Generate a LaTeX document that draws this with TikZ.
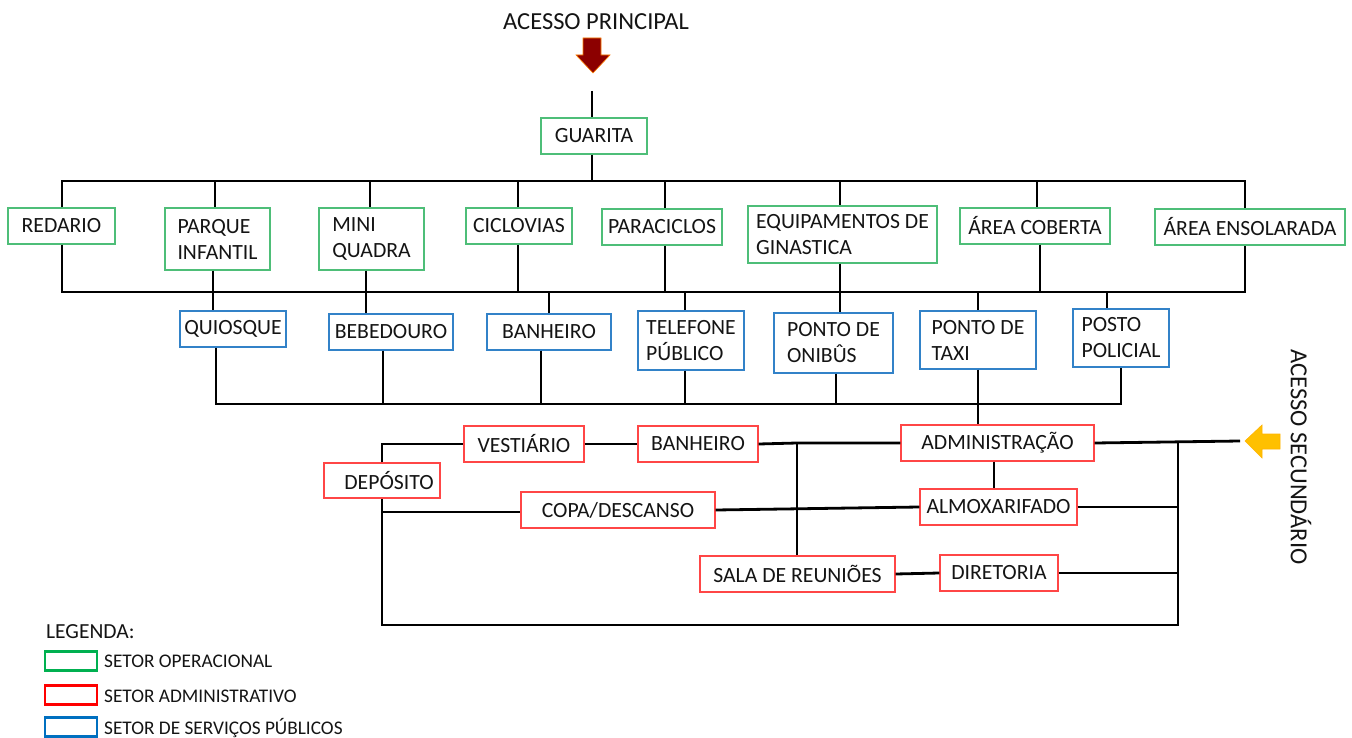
\documentclass[tikz,border=0pt]{standalone}
\usepackage{fontspec}
\setmainfont{Carlito}
\definecolor{opgreen}{RGB}{78,190,120}
\definecolor{adred}{RGB}{255,70,70}
\definecolor{pubblue}{RGB}{50,130,200}
\definecolor{legG}{RGB}{0,176,80}
\definecolor{legR}{RGB}{255,0,0}
\definecolor{legB}{RGB}{0,112,192}
\definecolor{darr}{RGB}{140,0,0}
\definecolor{yarr}{RGB}{255,192,0}
\definecolor{txt}{RGB}{20,20,20}
\newcommand\boxfont{\fontsize{21.7}{26}\selectfont}
\newcommand\hdrfont{\fontsize{24.5}{28}\selectfont}
\newcommand\legfont{\fontsize{19.3}{22}\selectfont}
\begin{document}
\begin{tikzpicture}[x=1pt,y=-1pt, text=txt,
  conn/.style={line width=2.8pt, black, line join=miter},
  box/.style={draw, line width=1.3pt, fill=white, inner sep=0pt, font=\boxfont, align=left},
  gbox/.style={box, draw=opgreen},
  rbox/.style={box, draw=adred},
  bbox/.style={box, draw=pubblue},
  legbox/.style={draw, line width=2.4pt, minimum width=52pt, minimum height=19pt, inner sep=0pt},
  legtxt/.style={font=\legfont, anchor=west, inner sep=0pt}]
\useasboundingbox (0,0) rectangle (1352,738);

% ---------- headers and arrows
\node[font=\hdrfont] (acp) at (596,22) {ACESSO PRINCIPAL};
\fill[darr, draw=orange, line width=0.6pt] (583,38) -- (601,38) -- (601,55) -- (610,55) -- (593,73) -- (576,55) -- (583,55) -- cycle;
\node[font=\hdrfont, rotate=-90] (acs) at (1301,457) {ACESSO SECUNDÁRIO};
\fill[yarr, draw=yarr!80!orange, line width=0.6pt] (1280,434) -- (1262,434) -- (1262,425) -- (1245,441) -- (1262,458) -- (1262,449) -- (1280,449) -- cycle;

% ---------- green row
\node[gbox, minimum width=106pt, minimum height=36pt] (guarita) at (594,136) {GUARITA};
\node[gbox, minimum width=107pt, minimum height=36pt] (redario) at (61.5,226) {REDARIO};
\node[gbox, minimum width=105pt, minimum height=62pt] (parque) at (217.5,239) {PARQUE\\INFANTIL};
\node[gbox, minimum width=105pt, minimum height=62pt] (mini) at (371.5,239) {MINI\\QUADRA};
\node[gbox, minimum width=106pt, minimum height=36pt] (ciclo) at (519,226) {CICLOVIAS};
\node[gbox, minimum width=120pt, minimum height=36pt] (parac) at (662,227) {PARACICLOS};
\node[gbox, minimum width=189pt, minimum height=57pt] (equip) at (842.5,234.5) {EQUIPAMENTOS DE\\GINASTICA};
\node[gbox, minimum width=150pt, minimum height=36pt] (cob) at (1035,226) {ÁREA COBERTA};
\node[gbox, minimum width=190pt, minimum height=36pt] (ens) at (1250,227) {ÁREA ENSOLARADA};

% ---------- blue row
\node[bbox, minimum width=106pt, minimum height=36pt] (quiosque) at (233,329) {QUIOSQUE};
\node[bbox, minimum width=124pt, minimum height=36pt] (bebed) at (391,332) {BEBEDOURO};
\node[bbox, minimum width=124pt, minimum height=36pt] (banh1) at (549,332) {BANHEIRO};
\node[bbox, minimum width=106pt, minimum height=59pt] (telef) at (691,340.5) {TELEFONE\\PÚBLICO};
\node[bbox, minimum width=119pt, minimum height=60pt] (onib) at (833.5,343) {PONTO DE\\ONIBÛS};
\node[bbox, minimum width=116pt, minimum height=58pt] (taxi) at (978,340) {PONTO DE\\TAXI};
\node[bbox, minimum width=96pt, minimum height=58pt] (posto) at (1121,338) {POSTO\\POLICIAL};

% ---------- red boxes
\node[rbox, minimum width=193pt, minimum height=36pt] (admin) at (997.5,443) {ADMINISTRAÇÃO};
\node[rbox, minimum width=120pt, minimum height=36pt] (vest) at (524,444) {VESTIÁRIO};
\node[rbox, minimum width=120pt, minimum height=36pt] (banh2) at (698,444) {BANHEIRO};
\node[rbox, minimum width=116pt, minimum height=35pt] (depos) at (382,480.5) {\hspace*{14pt}DEPÓSITO};
\node[rbox, minimum width=194pt, minimum height=36pt] (copa) at (618,510) {COPA/DESCANSO};
\node[rbox, minimum width=157pt, minimum height=36pt] (almox) at (998.5,507) {ALMOXARIFADO};
\node[rbox, minimum width=195pt, minimum height=36pt] (sala) at (797.5,574) {SALA DE REUNIÕES};
\node[rbox, minimum width=118pt, minimum height=36pt] (diret) at (999,573) {DIRETORIA};

% ---------- coordinates
\coordinate (g0) at (592,91);
\coordinate (tb) at (592,181);
\coordinate (tbL) at (62,181);
\coordinate (tbR) at (1245,181);
\coordinate (mbL) at (62,292);
\coordinate (mbR) at (1245,292);
\coordinate (bL) at (216,404);
\coordinate (bR) at (1121,404);
\coordinate (xa) at (1240,441);
\coordinate (rvT) at (1178,441);
\coordinate (rvB) at (1178,625);
\coordinate (lvB) at (382,625);
\coordinate (dl) at (382,441);
\coordinate (jv) at (797,443);
\coordinate (cl) at (382,512);

% ---------- top connectors
\draw[conn] (g0) -- (guarita.north -| g0);
\draw[conn] (guarita.south -| tb) -- (tb);
\draw[conn] (redario.north -| tbL) |- (tbR) -- (ens.north -| tbR);
\foreach \x/\n in {215/parque, 370/mini, 518/ciclo, 665/parac, 840/equip, 1037/cob} {
  \coordinate (d\n) at (\x,181);
  \draw[conn] (d\n) -- (\n.north -| d\n);
}

% ---------- middle bus
\draw[conn] (redario.south -| mbL) |- (mbR) -- (ens.south -| mbR);
\foreach \x/\a/\b in {213/parque/quiosque, 366/mini/bebed, 840/equip/onib} {
  \coordinate (m\a) at (\x,292);
  \draw[conn] (\a.south -| m\a) -- (\b.north -| m\a);
}
\foreach \x/\n in {518/ciclo, 665/parac, 1040/cob} {
  \coordinate (u\n) at (\x,292);
  \draw[conn] (\n.south -| u\n) -- (u\n);
}
\foreach \x/\n in {549/banh1, 685/telef, 978/taxi, 1107/posto} {
  \coordinate (w\n) at (\x,292);
  \draw[conn] (w\n) -- (\n.north -| w\n);
}

% ---------- lower bus
\draw[conn] (quiosque.south -| bL) |- (bR) -- (posto.south -| bR);
\foreach \x/\n in {383/bebed, 541/banh1, 685/telef, 836/onib} {
  \coordinate (l\n) at (\x,404);
  \draw[conn] (\n.south -| l\n) -- (l\n);
}
\coordinate (ltaxi) at (978,404);
\draw[conn] (taxi.south -| ltaxi) -- (admin.north -| ltaxi);

% ---------- administrative block
\draw[conn] (admin.east) -- (xa);
\draw[conn] (rvT) -- (rvB) -- (lvB) -- (depos.south -| lvB);
\draw[conn] (depos.north -| dl) |- (vest.west);
\draw[conn] (vest.east) -- (banh2.west);
\draw[conn] (banh2.east) -- (jv) -- (admin.west);
\draw[conn] (jv) -- (sala.north -| jv);
\coordinate (ax) at (994,461);
\draw[conn] (admin.south -| ax) -- (almox.north -| ax);
\draw[conn] (almox.east) -- (almox.east -| rvT);
\draw[conn] (diret.east) -- (diret.east -| rvT);
\draw[conn] (cl) -- (copa.west |- cl);
\draw[conn] (copa.east) -- (almox.west);
\draw[conn] (sala.east) -- (diret.west);

% ---------- legend
\node[anchor=west, inner sep=0pt, font=\fontsize{21.5}{25}\selectfont] (leg) at (46,632) {LEGENDA:};
\node[legbox, draw=legG] (lg) at (71,661) {};
\node[legbox, draw=legR] (lr) at (71,695) {};
\node[legbox, draw=legB] (lb) at (71,727) {};
\node[legtxt] (tg) at (104,661) {SETOR OPERACIONAL};
\node[legtxt] (tr) at (104,696) {SETOR ADMINISTRATIVO};
\node[legtxt] (tbb) at (104,728) {SETOR DE SERVIÇOS PÚBLICOS};
\end{tikzpicture}
\end{document}
